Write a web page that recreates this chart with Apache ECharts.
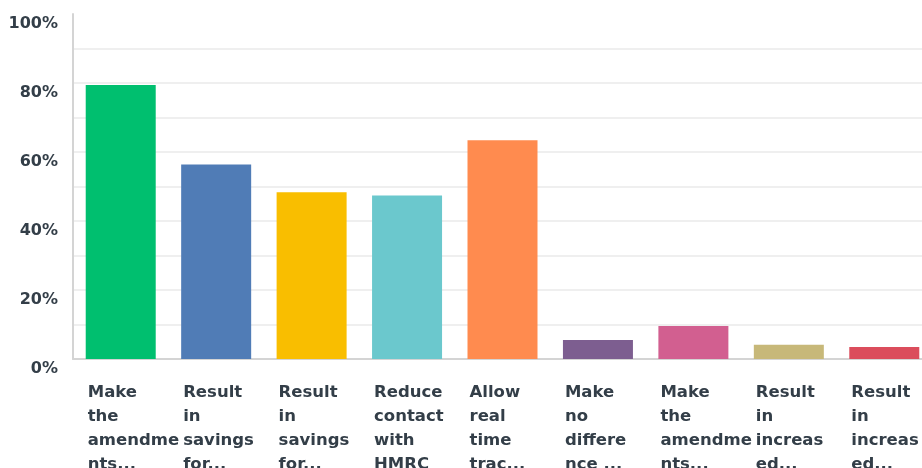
<!DOCTYPE html>
<html>
<head>
<meta charset="utf-8">
<style>
  html, body { margin: 0; padding: 0; background: #ffffff; }
  #chart { width: 922px; height: 468px; }
</style>
<script src="https://cdn.jsdelivr.net/npm/echarts@6/dist/echarts.min.js"></script>
</head>
<body>
<div id="chart"></div>
<script>
// Answer options (shortened as displayed under each bar)
var categories = [
  "Make\nthe\namendme\nnts...",
  "Result\nin\nsavings\nfor...",
  "Result\nin\nsavings\nfor...",
  "Reduce\ncontact\nwith\nHMRC",
  "Allow\nreal\ntime\ntrac...",
  "Make\nno\ndiffere\nnce ...",
  "Make\nthe\namendme\nnts...",
  "Result\nin\nincreas\ned...",
  "Result\nin\nincreas\ned..."
];

// Share of respondents (%)
var values = [79.4, 56.4, 48.3, 47.4, 63.4, 5.5, 9.6, 4.1, 3.5];

// One colour per answer option
var barColors = ["#00bf6f", "#507cb6", "#f9be00", "#6bc8cd", "#ff8b4f", "#7d5e90", "#d25f90", "#c7b879", "#db4d5c"];

// Value-axis range
var yMin = 0, yMax = 100, yStep = 10, yLabelStep = 20;

var textColor = "#333e48";
var fontFamily = "DejaVu Sans";

var chart = echarts.init(document.getElementById("chart"), null, { renderer: "canvas" });

// grid lines for every step; the top one is left out
var gridColors = [];
for (var v = yMin; v <= yMax; v += yStep) {
  gridColors.push(v === yMax ? "rgba(0,0,0,0)" : "#efefef");
}

chart.setOption({
  animation: false,
  backgroundColor: "#ffffff",
  // the plot runs a little past the right edge of the canvas
  grid: {
    left: 73, width: 859, top: 14, bottom: 109,
    containLabel: false,
    outerBoundsMode: "none"
  },
  xAxis: {
    type: "category",
    data: categories,
    boundaryGap: true,
    axisLine: { show: true, lineStyle: { color: "#d4d4d4", width: 2 } },
    axisTick: { show: false },
    splitLine: { show: false },
    axisLabel: {
      interval: 0,
      margin: 22,
      align: "center",
      verticalAlign: "top",
      hideOverlap: false,
      formatter: function (val) { return "{t|" + val + "}"; },
      rich: {
        t: {
          width: 66,
          align: "left",
          fontFamily: fontFamily,
          fontWeight: "bold",
          fontSize: 16.5,
          lineHeight: 24,
          color: textColor
        }
      }
    }
  },
  yAxis: {
    type: "value",
    min: yMin,
    max: yMax,
    interval: yStep,
    axisLine: { show: true, lineStyle: { color: "#d4d4d4", width: 2 } },
    axisTick: { show: false },
    splitLine: { show: true, lineStyle: { color: gridColors, width: 2 } },
    axisLabel: {
      margin: 15,
      verticalAlign: "top",
      padding: [2, 0, 0, 0],
      fontFamily: fontFamily,
      fontWeight: "bold",
      fontSize: 16,
      color: textColor,
      formatter: function (val) {
        return val % yLabelStep === 0 ? val + "%" : "";
      }
    }
  },
  series: [{
    type: "bar",
    data: values,
    barWidth: 70,
    itemStyle: {
      color: function (p) { return barColors[p.dataIndex]; }
    }
  }]
});
</script>
</body>
</html>
